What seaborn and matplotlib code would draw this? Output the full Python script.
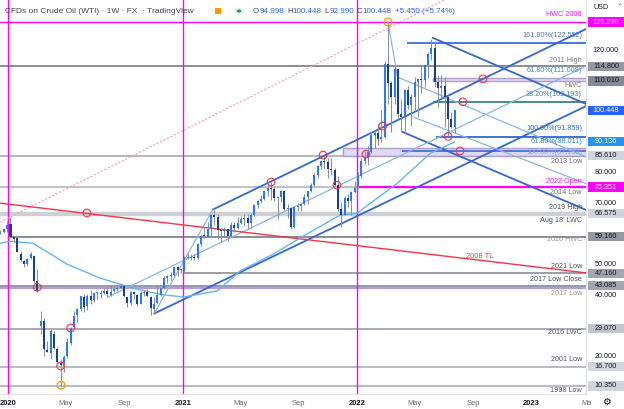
import numpy as np
import pandas as pd
import matplotlib
matplotlib.use('Agg')
import matplotlib.pyplot as plt
import matplotlib.dates as mdates
from matplotlib.patches import Rectangle, Circle
from matplotlib.transforms import Bbox, TransformedBbox, blended_transform_factory
import seaborn as sns


# =============================================================================
# Data - weekly candles, Dec 2019 .. Jul 2022
# =============================================================================
first_week = '2019-12-16'

opens = [
    60.1, 60.5, 61.7,
    63.3, 59.0, 58.6, 53.6, 51.3, 50.2, 52.2, 52.9, 44.8, 30.0, 31.7, 22.0,
    21.0, 27.4, 22.4, 17.7, 17.0, 20.0, 24.5, 29.5, 33.5, 35.4, 39.4, 36.5,
    39.8, 38.5, 40.6, 40.5, 40.6, 41.3, 40.2, 41.3, 42.1, 42.4, 43.0, 39.4,
    37.3, 41.0, 40.2, 37.1, 40.6, 40.9, 39.5, 35.6, 37.3, 40.1, 42.4, 45.6,
    46.3, 46.6, 49.1, 48.2,
    48.4, 52.2, 52.3, 52.3, 52.1, 56.9, 59.5, 59.1, 61.5, 66.1, 65.6, 61.4,
    61.0, 61.5, 59.3, 63.1, 62.1, 63.6, 64.9, 65.4, 63.6, 66.3, 69.6, 70.9,
    71.6, 74.1, 75.2, 74.6, 71.8, 72.1, 73.9, 68.3, 68.4, 62.3, 68.7, 69.3,
    69.7, 72.0, 74.0, 75.9, 79.4, 82.3, 83.8, 83.6, 81.3, 80.8, 76.1, 68.2,
    66.3, 71.7, 70.9, 73.8,
    75.7, 78.9, 83.8, 85.1, 86.8, 92.3, 93.1, 91.1, 91.6, 115.7, 109.3,
    104.7, 113.9, 99.3, 98.3, 107.0, 102.1, 104.7, 109.8, 110.5, 110.3,
    115.1, 118.9, 120.7, 109.6, 107.6, 108.4, 104.8, 97.6, 94.998,
]
highs = [
    61.4, 61.9, 64.1,
    65.6, 59.0, 59.7, 54.3, 51.6, 52.3, 54.0, 53.2, 48.7, 35.0, 32.5, 25.2,
    29.1, 28.4, 23.1, 19.0, 20.5, 26.0, 29.7, 34.7, 35.7, 39.7, 40.4, 40.3,
    41.6, 41.0, 41.4, 41.7, 42.5, 42.2, 43.0, 43.0, 43.4, 43.8, 43.4, 39.5,
    41.4, 41.2, 40.5, 41.3, 41.7, 41.9, 39.7, 39.3, 43.1, 42.4, 46.3, 46.7,
    47.7, 49.3, 49.4, 48.6,
    52.8, 53.9, 53.5, 53.4, 57.0, 59.7, 62.3, 63.8, 66.4, 67.9, 66.4, 62.0,
    62.3, 61.6, 63.8, 64.0, 65.5, 66.0, 66.5, 66.6, 67.0, 69.8, 71.0, 72.9,
    74.3, 76.0, 76.9, 75.5, 72.3, 74.0, 74.0, 69.9, 68.8, 69.0, 70.1, 70.3,
    73.0, 74.0, 76.7, 79.8, 82.5, 84.3, 85.4, 84.8, 84.9, 81.5, 79.0, 70.5,
    72.4, 73.0, 74.0, 77.3,
    80.2, 84.8, 87.1, 88.8, 93.2, 94.0, 95.8, 100.5, 116.6, 129.3, 110.0,
    115.4, 114.0, 104.0, 107.4, 108.5, 105.7, 111.4, 110.6, 115.0, 115.3,
    119.4, 123.7, 123.2, 112.0, 112.0, 111.4, 105.0, 100.0, 100.448,
]
lows = [
    59.9, 60.4, 60.6,
    58.9, 57.4, 54.0, 51.3, 49.3, 49.6, 51.8, 44.0, 41.0, 27.3, 20.1, 21.3,
    19.3, 22.3, 17.3, 10.4, 15.0, 19.5, 23.6, 29.1, 31.3, 34.8, 34.4, 35.3,
    37.1, 37.7, 38.7, 39.1, 40.3, 39.3, 39.8, 41.0, 41.5, 42.4, 39.4, 36.1,
    36.9, 38.9, 36.6, 37.0, 39.6, 39.3, 33.6, 34.0, 37.2, 39.9, 42.1, 43.9,
    44.9, 46.2, 46.2, 47.2,
    47.2, 51.8, 51.4, 51.6, 52.0, 56.2, 58.6, 58.9, 59.0, 63.1, 58.3, 57.3,
    58.9, 57.6, 59.1, 60.7, 61.6, 63.2, 63.0, 61.6, 62.0, 65.8, 68.6, 70.2,
    71.2, 72.4, 71.2, 70.8, 65.0, 70.6, 67.9, 65.2, 61.7, 62.1, 67.6, 67.6,
    69.5, 69.8, 73.6, 75.8, 78.3, 81.4, 81.2, 78.3, 79.3, 75.8, 67.4, 62.4,
    66.1, 68.9, 66.3, 73.4,
    75.1, 78.4, 82.9, 82.6, 86.6, 88.0, 89.1, 90.1, 91.4, 102.6, 93.5,
    102.6, 97.8, 93.5, 92.9, 100.7, 95.3, 100.3, 98.2, 106.0, 108.0,
    111.0, 117.0, 108.0, 101.5, 104.6, 95.1, 91.9, 94.5, 92.990,
]
closes = [
    60.4, 61.7, 63.0,
    59.0, 58.5, 54.2, 51.6, 50.3, 52.0, 53.4, 44.8, 41.3, 31.7, 22.4, 21.5,
    28.3, 22.8, 18.3, 17.2, 19.8, 24.7, 29.4, 33.3, 35.5, 39.6, 36.3, 39.8,
    38.5, 40.7, 40.6, 40.6, 41.3, 40.3, 41.2, 42.0, 42.3, 43.0, 39.8, 37.3,
    41.1, 40.3, 37.1, 40.6, 40.9, 39.9, 35.8, 37.1, 40.1, 42.2, 45.5, 46.3,
    46.6, 49.1, 48.2, 48.5,
    52.2, 52.4, 52.3, 52.2, 56.9, 59.5, 59.2, 61.5, 66.1, 65.6, 61.4, 61.0,
    61.5, 59.3, 63.1, 62.1, 63.6, 64.9, 65.4, 63.6, 66.3, 69.6, 70.9, 71.6,
    74.1, 75.2, 74.6, 71.8, 72.1, 74.0, 68.3, 68.4, 62.3, 68.7, 69.3, 69.7,
    72.0, 74.0, 75.9, 79.4, 82.3, 83.8, 83.6, 81.3, 80.8, 76.1, 68.2, 66.3,
    71.7, 70.9, 73.8, 75.2,
    78.9, 83.8, 85.1, 86.8, 92.3, 93.1, 91.1, 91.6, 115.7, 109.3, 104.7,
    113.9, 99.3, 98.3, 107.0, 102.1, 104.7, 109.8, 110.5, 110.3, 115.1,
    118.9, 120.7, 109.6, 107.6, 108.4, 104.8, 97.6, 94.998, 100.448,
]

# 52-week moving average, read at a few points
ma_dates = ['2019-12-15', '2020-01-05', '2020-02-22', '2020-05-04', '2020-07-12',
            '2020-09-19', '2020-11-14', '2021-01-02', '2021-03-14', '2021-05-01',
            '2021-07-09', '2021-09-18', '2021-11-26', '2022-01-01', '2022-03-26',
            '2022-06-03', '2022-07-25']
ma_values = [57.0, 57.6, 57.0, 50.1, 45.6, 42.3, 40.3, 39.4, 41.4, 47.9,
             53.4, 60.0, 66.1, 66.8, 76.5, 86.3, 90.136]

# horizontal support / resistance lines
level_prices = [114.800, 85.610, 75.351, 66.575, 59.160, 47.160, 43.085, 42.400,
                29.070, 16.700, 10.350]
level_starts = ['2019-12-01', '2019-12-01', '2019-12-01', '2019-12-01', '2020-01-06',
                '2021-01-04', '2019-12-01', '2019-12-01', '2019-12-01', '2019-12-01',
                '2019-12-01']
level_colors = ['#8A8D96', '#B2B5BE', '#B2B5BE', '#CDD0D6', '#8A8D96', '#8A8D96',
                '#9598A1', '#B39DDB', '#A3A6AF', '#B2B5BE', '#B2B5BE']
level_widths = [1.4, 1.4, 1.2, 3.2, 1.4, 1.2, 1.4, 1.6, 1.3, 1.3, 1.3]

# fibonacci lines
fib_prices = [122.552, 103.193, 91.859, 87.159]
fib_starts = ['2022-04-15', '2022-06-09', '2022-06-15', '2022-04-06']
fib_colors = ['#3D6FD0', '#3F7F7F', '#3366CC', '#3F72D8']

# shaded zones
band_lo = [110.010, 85.610]
band_hi = [111.008, 88.011]
band_starts = ['2022-06-09', '2021-12-03']

# pitchforks / trendlines: (date0, price0, date1, price1)
dark_lines = [
    ('2021-03-05', 68.0, '2023-04-26', 127.0),
    ('2020-11-02', 34.0, '2023-04-26', 101.8),
    ('2022-06-09', 124.1, '2023-04-26', 102.5),
    ('2022-04-06', 93.4, '2023-04-26', 67.9),
]
light_lines = [
    ('2020-07-28', 39.4, '2023-04-26', 114.9),
    ('2020-11-02', 34.0, '2021-03-05', 68.0),
    ('2022-03-07', 129.3, '2022-03-27', 111.3),
    ('2022-03-27', 111.3, '2023-04-26', 85.2),
    ('2022-04-28', 98.3, '2023-04-26', 76.5),
]
red_tl = ('2019-12-15', 70.1, '2023-04-26', 47.3)
pink_tl = ('2019-12-15', 63.9, '2022-10-28', 145.6)

# pivots marked with circles
circle_dates = ['2020-04-20', '2020-05-11', '2020-03-02', '2020-06-14', '2021-07-05',
                '2021-10-22', '2021-11-20', '2022-01-20', '2022-02-24', '2022-09-22',
                '2022-08-11', '2022-07-11', '2022-08-05']
circle_prices = [16.9, 29.3, 42.6, 66.9, 77.0, 85.8, 76.0, 86.1, 95.3, 110.7,
                 103.2, 91.9, 87.16]
orange_dates = ['2022-03-07', '2020-04-21']
orange_prices = [129.3, 10.6]

# text next to levels
label_texts = ['HWC 2008', '161.80%(122.552)', '2011 High', '61.80%(111.008)', 'HWC',
               '38.20%(103.193)', '100.00%(91.859)', '61.80%(88.011)',
               '100.00%(87.159)', '2013 Low', '2022 Open', '2014 Low', '2019 High',
               "Aug 18' LWC", '2020 HWC', '2021 Low', '2017 Low Close', '2017 Low',
               '2016 LWC', '2001 Low', '1998 Low']
label_prices = [131.6, 125.0, 116.6, 113.4, 108.4, 105.7, 94.6, 90.2, 86.6, 83.6,
                77.3, 73.6, 68.6, 64.4, 58.1, 49.3, 45.2, 40.6, 27.8, 19.1, 9.0]
label_colors = ['#E91EE9', '#4A78C8', '#787B86', '#3F8FB5', '#787B86', '#4A7F9A',
                '#3366CC', '#2E8BC0', '#7FA7DF', '#6A6D78', '#E91EE9', '#6A6D78',
                '#50535E', '#50535E', '#9598A1', '#50535E', '#50535E', '#9598A1',
                '#50535E', '#50535E', '#50535E']

# price scale boxes
axis_box_prices = [129.290, 114.800, 110.010, 100.448, 90.136, 85.610, 75.351,
                   66.575, 59.160, 47.160, 43.085, 29.070, 16.700, 10.350]
axis_box_colors = ['#FF00FF', '#9598A1', '#868993', '#2962FF', '#2196F3', '#D1D4DC',
                   '#FF00FF', '#D1D4DC', '#9598A1', '#A3A6AF', '#A3A6AF', '#C3C5CC',
                   '#D1D4DC', '#D1D4DC']
axis_box_text = ['white', '#131722', '#131722', 'white', 'white', '#131722', 'white',
                 '#131722', '#131722', '#131722', '#131722', '#131722', '#131722',
                 '#131722']
axis_ticks = [120, 80, 70, 50, 40, 20]

x_tick_dates = ['2020-01-01', '2020-05-01', '2020-09-01', '2021-01-01', '2021-05-01',
                '2021-09-01', '2022-01-01', '2022-05-01', '2022-09-01', '2023-01-01',
                '2023-05-01']
x_tick_labels = ['2020', 'May', 'Sep', '2021', 'May', 'Sep', '2022', 'May', 'Sep',
                 '2023', 'May']

year_lines = ['2020-01-01', '2021-01-01', '2022-01-01']


# =============================================================================
# Figure
# =============================================================================
sns.set_theme(style='white')
plt.rcParams['font.family'] = ['Liberation Sans', 'DejaVu Sans']

W, H = 624, 409
fig = plt.figure(figsize=(W / 100, H / 100), dpi=100)
ax = fig.add_axes([0, 15 / H, 586 / W, 394 / H])

d2n = lambda d: mdates.date2num(pd.Timestamp(d))
x0, x1 = d2n('2019-12-15'), d2n('2023-04-26')
ax.set_xlim(x0, x1)
ax.set_ylim(7.72, 136.48)

MAGENTA = '#FF00FF'

# year separators
for d in year_lines:
    ax.axvline(d2n(d), color=MAGENTA, lw=1, zorder=2)

# horizontal levels
for p, s, c, w in zip(level_prices, level_starts, level_colors, level_widths):
    ax.hlines(p, max(d2n(s), x0), x1, color=c, lw=w, zorder=1)
ax.axhline(129.29, color=MAGENTA, lw=1, zorder=2)
ax.hlines(75.351, d2n('2022-01-01'), x1, color=MAGENTA, lw=1.6, zorder=2)

for lo, hi, s in zip(band_lo, band_hi, band_starts):
    ax.add_patch(Rectangle((d2n(s), lo), x1 - d2n(s), hi - lo, fc='#DCD6EE',
                           ec='#A795D2', lw=1, alpha=0.9, zorder=1))

for p, s, c in zip(fib_prices, fib_starts, fib_colors):
    ax.hlines(p, d2n(s), x1, color=c, lw=1.3, zorder=2)

# trendlines
def seg(line, **kw):
    da, pa, db, pb = line
    ax.plot([d2n(da), d2n(db)], [pa, pb], **kw)

for ln in dark_lines:
    seg(ln, color='#3567D6', lw=1.3, zorder=3)
for ln in light_lines:
    seg(ln, color='#8DB4EC', lw=0.9, zorder=3)
seg(red_tl, color='#F23645', lw=1, zorder=3)
seg(pink_tl, color='#F7A1A8', lw=0.8, ls=(0, (2, 1.5)), zorder=2)

# moving average
sns.lineplot(x=[d2n(d) for d in ma_dates], y=ma_values, ax=ax,
             color='#64B5F6', lw=1, zorder=3)

# candles
o, h, l, c = map(np.array, (opens, highs, lows, closes))
xs = mdates.date2num(pd.date_range(first_week, periods=len(closes), freq='7D'))
ax.vlines(xs, l, h, color='#8E9099', lw=0.75, zorder=4)
up = c >= o
body = np.maximum(np.abs(c - o), 0.35)
ax.bar(xs[up], body[up], bottom=o[up], width=4.2, color='#2979FF', lw=0, zorder=5)
ax.bar(xs[~up], body[~up], bottom=c[~up], width=4.2, color='#173E90', lw=0, zorder=5)

# pivot circles
ax.scatter([d2n(d) for d in circle_dates], circle_prices, s=30, facecolors='none',
           edgecolors='#F23645', linewidths=0.8, zorder=6)
ax.scatter([d2n(d) for d in orange_dates], orange_prices, s=30, facecolors='none',
           edgecolors='#FF9800', linewidths=0.9, zorder=6)

# level labels
xr = blended_transform_factory(ax.transAxes, ax.transData)
for t, p, col in zip(label_texts, label_prices, label_colors):
    ax.text(0.993, p, t, transform=xr, ha='right', va='center', fontsize=5.2,
            color=col, zorder=7)
ax.text(d2n('2022-09-16'), 52.8, '2008 TL', ha='center', va='center',
        fontsize=5.4, color='#F23645', zorder=7)

# price scale
for p in axis_ticks:
    ax.text(1.034, p, f'{p:.3f}', transform=xr, ha='center', va='center',
            fontsize=5.2, color='#131722', clip_on=False)
for p, bg, fg in zip(axis_box_prices, axis_box_colors, axis_box_text):
    ax.add_patch(Rectangle((1.0034, p - 1.5), 0.0614, 3.0, transform=xr, fc=bg,
                           ec='none', clip_on=False, zorder=8))
    ax.text(1.034, p, f'{p:.3f}', transform=xr, ha='center', va='center',
            fontsize=5.2, color=fg, clip_on=False, zorder=9)
ax.text(1.012, 0.982, 'USD', transform=ax.transAxes, ha='left', va='center',
        fontsize=5.2, color='#131722')
ax.text(1.054, 0.982, '\u02c5', transform=ax.transAxes, ha='left', va='center',
        fontsize=5, color='#131722', family=['DejaVu Sans'])

# time scale
xb = blended_transform_factory(ax.transData, ax.transAxes)
clip = TransformedBbox(Bbox([[0, -0.1], [1.009, 1]]), ax.transAxes)
for d, t in zip(x_tick_dates, x_tick_labels):
    yr = t.isdigit()
    txt = ax.text(d2n(d), -0.023, t, transform=xb, ha='center', va='center',
                  fontsize=5.4, color='#131722' if yr else '#6A6D78',
                  fontweight='bold' if yr else 'normal', clip_on=True)
    txt.set_clip_box(clip)
fig.text(606 / W, 1 - 402 / H, '\u2699', ha='center', va='center', fontsize=7,
         color='#131722', family=['DejaVu Sans'])

# header
ax.text(0.0085, 0.972, 'CFDs on Crude Oil (WTI) \u00b7 1W \u00b7 FX  \u00b7 TradingView',
        transform=ax.transAxes, ha='left', va='center', fontsize=6,
        color='#434651', zorder=9)
fig.add_artist(Rectangle((215 / W, 1 - 14 / H), 6 / W, 6 / H, fc='#FF9800',
                         ec='none', transform=fig.transFigure))
fig.add_artist(Circle((239 / W, 1 - 11 / H), 4.5 / W, fc='#D7EFEC', ec='none',
                      transform=fig.transFigure))
fig.add_artist(Circle((239 / W, 1 - 11 / H), 2.2 / W, fc='#089981', ec='none',
                      transform=fig.transFigure))
pieces = [('O', '#434651'), ('94.998', '#2962FF'), ('H', '#434651'),
          ('100.448', '#2962FF'), ('L', '#434651'), ('92.990', '#2962FF'),
          ('C', '#434651'), ('100.448', '#2962FF'), ('+5.450 (+5.74%)', '#2962FF')]
prev = ax.text(253 / 586, 0.972, pieces[0][0], transform=ax.transAxes, ha='left',
               va='center', fontsize=5.8, color=pieces[0][1])
for i, (s, col) in enumerate(pieces[1:], 1):
    gap = 0 if pieces[i - 1][0] in 'OHLC' else 2.2
    prev = ax.annotate(s, xy=(1, 0.5), xycoords=prev, xytext=(gap, 0),
                       textcoords='offset points', ha='left', va='center',
                       fontsize=5.8, color=col)

# frame
ax.set(xlabel='', ylabel='', xticks=[], yticks=[])
for side in ['top', 'left']:
    ax.spines[side].set_visible(False)
for side in ['right', 'bottom']:
    ax.spines[side].set_color('#E0E3EB')
    ax.spines[side].set_linewidth(0.8)
if ax.get_legend():
    ax.get_legend().remove()

fig.savefig('out.png', dpi=100)
plt.close(fig)
